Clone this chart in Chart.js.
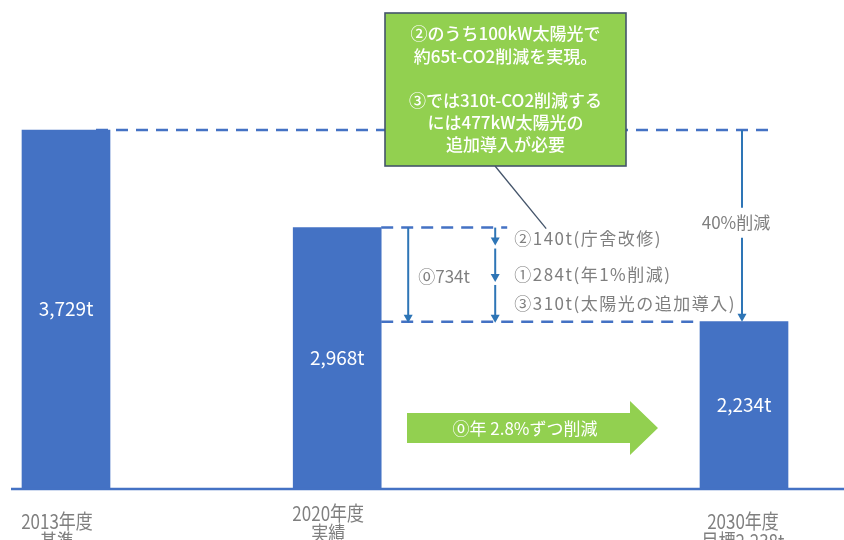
<!DOCTYPE html>
<html lang="ja">
<head>
<meta charset="utf-8">
<title>CO2排出量の推移と削減目標</title>
<script src="https://cdn.jsdelivr.net/npm/chart.js@4/dist/chart.umd.min.js"></script>
<style>
  html, body { margin: 0; padding: 0; background: #ffffff; }
  #chart { display: block; }
</style>
</head>
<body>
<canvas id="chart" width="844" height="540"></canvas>
<script>
// Fiscal years (blank slots keep the time spacing between the bars)
const categories = [
  ['2013年度', '基準'],
  [],
  ['2020年度', '実績'],
  [],
  [],
  ['2030年度', '目標2.238t']
];
// CO2 emissions (t)
const emissions = [3729, null, 2968, null, null, 2234];

// Breakdown of the 2020 -> 2030 reduction (t)
const stepValues = [140, 284, 310];
const stepLabels = ['②140t(庁舎改修)', '①284t(年1%削減)', '③310t(太陽光の追加導入)'];
const totalGapLabel = '⓪734t';
const baseReductionLabel = '40%削減';
const trendLabel = '⓪年 2.8%ずつ削減';
const calloutLines = [
  '②のうち100kW太陽光で',
  '約65t-CO2削減を実現。',
  '',
  '③では310t-CO2削減する',
  'には477kW太陽光の',
  '追加導入が必要'
];

// truncated value axis
const Y_MIN = 937;
const Y_MAX = 4743;

const BLUE = '#4472C4';
const ARROW_BLUE = '#2E75B6';
const GREEN = '#92D050';
const GREY_TEXT = '#7f7f7f';
const JP_FONT = "'Noto Sans CJK JP', 'Noto Sans', sans-serif";

function dashedLine(ctx, x1, x2, y) {
  ctx.save();
  ctx.strokeStyle = BLUE;
  ctx.lineWidth = 2.5;
  ctx.setLineDash([12, 8]);
  ctx.beginPath();
  ctx.moveTo(x1, y);
  ctx.lineTo(x2, y);
  ctx.stroke();
  ctx.restore();
}

function arrowDown(ctx, x, y1, y2) {
  const head = 8;
  ctx.save();
  ctx.strokeStyle = ARROW_BLUE;
  ctx.fillStyle = ARROW_BLUE;
  ctx.lineWidth = 2;
  ctx.beginPath();
  ctx.moveTo(x, y1);
  ctx.lineTo(x, y2 - head + 1);
  ctx.stroke();
  ctx.beginPath();
  ctx.moveTo(x - 4.5, y2 - head);
  ctx.lineTo(x + 4.5, y2 - head);
  ctx.lineTo(x, y2);
  ctx.closePath();
  ctx.fill();
  ctx.restore();
}

function lineSeg(ctx, x, y1, y2) {
  ctx.save();
  ctx.strokeStyle = ARROW_BLUE;
  ctx.lineWidth = 2;
  ctx.beginPath();
  ctx.moveTo(x, y1);
  ctx.lineTo(x, y2);
  ctx.stroke();
  ctx.restore();
}

function text(ctx, str, x, y, opts) {
  ctx.save();
  ctx.font = (opts.weight || '400') + ' ' + (opts.size || 17) + 'px ' + JP_FONT;
  ctx.fillStyle = opts.color || GREY_TEXT;
  ctx.textAlign = opts.align || 'center';
  ctx.textBaseline = 'middle';
  if (opts.spacing) ctx.letterSpacing = opts.spacing + 'px';
  ctx.fillText(str, x, y);
  ctx.restore();
}

const annotations = {
  id: 'annotations',
  afterDatasetsDraw(chart) {
    const ctx = chart.ctx;
    const ys = chart.scales.y;
    const meta = chart.getDatasetMeta(0);
    const bars = meta.data;
    const b0 = bars[0], b1 = bars[2], b2 = bars[5];
    const half = b0.width / 2;

    const yBase = ys.getPixelForValue(emissions[0]);
    const yNow = ys.getPixelForValue(emissions[2]);
    const yGoal = ys.getPixelForValue(emissions[5]);

    // baseline axis
    ctx.save();
    ctx.strokeStyle = BLUE;
    ctx.lineWidth = 2.5;
    ctx.beginPath();
    ctx.moveTo(11, ys.bottom + 1);
    ctx.lineTo(chart.width, ys.bottom + 1);
    ctx.stroke();
    ctx.restore();

    // value labels inside the bars
    [0, 2, 5].forEach(i => {
      const bar = bars[i];
      const v = emissions[i];
      text(ctx, v.toLocaleString('en-US') + 't', bar.x, (bar.y + bar.base) / 2,
        { size: 19, color: '#ffffff' });
    });

    // reference levels
    const xArrow40 = b2.x - 2;
    dashedLine(ctx, b0.x + half - 14, xArrow40 + 34, yBase);
    const xStep = b1.x + half + 114;
    dashedLine(ctx, b1.x + half, xStep + 12, yNow);
    dashedLine(ctx, b1.x + half, b2.x - half, yGoal);

    // 40% reduction from the base year
    const labelY = (yBase + yGoal) / 2 - 3;
    lineSeg(ctx, xArrow40, yBase, labelY - 15);
    arrowDown(ctx, xArrow40, labelY + 15, yGoal);
    text(ctx, baseReductionLabel, xArrow40 - 6, labelY, { size: 17 });

    // total gap 2020 -> 2030
    const xGap = b1.x + half + 27;
    arrowDown(ctx, xGap, yNow, yGoal + 1);
    text(ctx, totalGapLabel, xGap + 10, (yNow + yGoal) / 2 + 2, { size: 17, align: 'left' });

    // stacked breakdown arrows
    let level = emissions[2];
    const labelOffsets = [11, 47, 76];
    stepValues.forEach((v, k) => {
      const top = ys.getPixelForValue(level);
      level -= v;
      const bottom = ys.getPixelForValue(level);
      arrowDown(ctx, xStep, top + (k === 0 ? 0 : 3), bottom + (k === 2 ? 1 : 0));
      text(ctx, stepLabels[k], xStep + 19, yNow + labelOffsets[k],
        { size: 17, align: 'left', spacing: 1.5 });
    });

    // callout box with leader line
    const box = { x: 385, y: 13, w: 241, h: 153 };
    ctx.save();
    ctx.strokeStyle = '#44546A';
    ctx.lineWidth = 1.3;
    ctx.beginPath();
    ctx.moveTo(495, box.y + box.h);
    ctx.lineTo(xStep + 51, yNow + 1);
    ctx.stroke();
    ctx.fillStyle = GREEN;
    ctx.fillRect(box.x, box.y, box.w, box.h);
    ctx.lineWidth = 1.6;
    ctx.strokeRect(box.x, box.y, box.w, box.h);
    ctx.restore();
    calloutLines.forEach((line, k) => {
      if (line) text(ctx, line, box.x + box.w / 2, 34 + k * 22.2,
        { size: 17, color: '#ffffff', weight: '500' });
    });

    // annual trend block arrow
    const ax = 407, ay = 413, bodyW = 223, bodyH = 30, headW = 28, headH = 54;
    const cy = ay + bodyH / 2;
    ctx.save();
    ctx.fillStyle = GREEN;
    ctx.beginPath();
    ctx.moveTo(ax, ay);
    ctx.lineTo(ax + bodyW, ay);
    ctx.lineTo(ax + bodyW, cy - headH / 2);
    ctx.lineTo(ax + bodyW + headW, cy);
    ctx.lineTo(ax + bodyW, cy + headH / 2);
    ctx.lineTo(ax + bodyW, ay + bodyH);
    ctx.lineTo(ax, ay + bodyH);
    ctx.closePath();
    ctx.fill();
    ctx.restore();
    text(ctx, trendLabel, 525, cy + 1, { size: 17, color: '#ffffff' });

    // category labels under the axis
    const dx = [-9, 0, -9, 0, 0, -1];
    const dy = [33, 0, 25, 0, 0, 33];
    categories.forEach((lines, i) => {
      if (!lines.length) return;
      const x = bars[i].x + dx[i];
      lines.forEach((ln, j) => {
        ctx.save();
        ctx.translate(x, ys.bottom + dy[i] + j * 20);
        ctx.scale(0.85, 1);
        ctx.font = '400 20px ' + JP_FONT;
        ctx.fillStyle = GREY_TEXT;
        ctx.textAlign = 'center';
        ctx.textBaseline = 'middle';
        ctx.fillText(ln, 0, 0);
        ctx.restore();
      });
    });
  }
};

new Chart(document.getElementById('chart'), {
  type: 'bar',
  data: {
    labels: categories,
    datasets: [{
      data: emissions,
      base: Y_MIN,
      backgroundColor: BLUE,
      borderWidth: 0,
      barThickness: 88,
      clip: false
    }]
  },
  options: {
    responsive: false,
    animation: false,
    devicePixelRatio: 1,
    layout: { padding: { left: 66, right: 100, top: 0, bottom: 52 } },
    scales: {
      x: { display: false, offset: false, grid: { display: false } },
      y: { display: false, min: Y_MIN, max: Y_MAX }
    },
    plugins: { legend: { display: false }, tooltip: { enabled: false } }
  },
  plugins: [annotations]
});
</script>
</body>
</html>
